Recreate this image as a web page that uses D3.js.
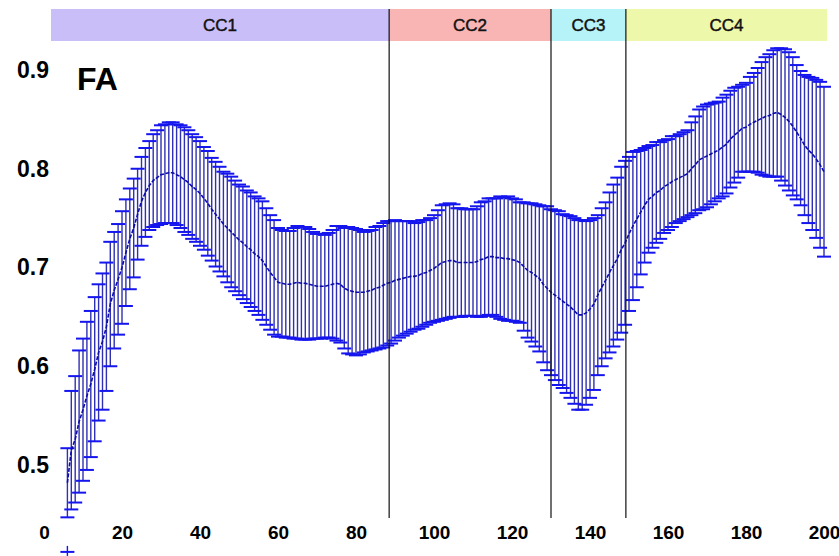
<!DOCTYPE html>
<html>
<head>
<meta charset="utf-8">
<script src="https://cdn.jsdelivr.net/npm/d3@7"></script>
<style>
  body { margin: 0; background: #fff; }
  text { font-family: "Liberation Sans", Arial, sans-serif; }
</style>
</head>
<body>
<div id="chart"></div>
<script>
// Data: FA profile along the corpus callosum
var firstPos = 6;   // position of the first sample, one sample per unit

var meanFA = [
  0.482, 0.515, 0.526, 0.544, 0.556, 0.570, 0.582, 0.597, 0.614, 0.625,
  0.640, 0.663, 0.677, 0.688, 0.700, 0.715, 0.729, 0.740, 0.754, 0.767,
  0.776, 0.783, 0.788, 0.791, 0.794, 0.795, 0.796, 0.796, 0.794, 0.792,
  0.789, 0.786, 0.782, 0.779, 0.775, 0.770, 0.765, 0.759, 0.754, 0.749,
  0.744, 0.740, 0.736, 0.732, 0.728, 0.725, 0.721, 0.718, 0.714, 0.711,
  0.707, 0.701, 0.695, 0.690, 0.685, 0.684, 0.683, 0.683, 0.684, 0.685,
  0.684, 0.684, 0.683, 0.682, 0.681, 0.681, 0.681, 0.682, 0.683, 0.684,
  0.683, 0.679, 0.677, 0.676, 0.675, 0.675, 0.675, 0.676, 0.677, 0.679,
  0.680, 0.682, 0.684, 0.685, 0.687, 0.688, 0.689, 0.690, 0.691, 0.691,
  0.692, 0.694, 0.695, 0.697, 0.699, 0.702, 0.705, 0.706, 0.707, 0.707,
  0.705, 0.705, 0.705, 0.705, 0.705, 0.706, 0.708, 0.709, 0.711, 0.711,
  0.710, 0.710, 0.709, 0.709, 0.708, 0.707, 0.705, 0.701, 0.697, 0.695,
  0.692, 0.689, 0.683, 0.679, 0.675, 0.672, 0.669, 0.666, 0.663, 0.660,
  0.656, 0.652, 0.652, 0.654, 0.658, 0.663, 0.672, 0.680, 0.687, 0.695,
  0.702, 0.709, 0.718, 0.725, 0.734, 0.742, 0.749, 0.756, 0.763, 0.769,
  0.772, 0.776, 0.778, 0.782, 0.784, 0.787, 0.789, 0.791, 0.793, 0.795,
  0.800, 0.804, 0.809, 0.811, 0.813, 0.815, 0.817, 0.819, 0.822, 0.825,
  0.830, 0.834, 0.837, 0.841, 0.842, 0.845, 0.847, 0.849, 0.851, 0.853,
  0.854, 0.856, 0.857, 0.855, 0.852, 0.848, 0.843, 0.837, 0.831, 0.824,
  0.819, 0.815, 0.810, 0.804, 0.797
];

var sdFA = [
  0.035, 0.060, 0.064, 0.072, 0.072, 0.075, 0.074, 0.073, 0.069, 0.069,
  0.065, 0.063, 0.059, 0.056, 0.057, 0.054, 0.051, 0.050, 0.046, 0.045,
  0.045, 0.045, 0.047, 0.048, 0.050, 0.050, 0.051, 0.051, 0.051, 0.052,
  0.053, 0.053, 0.053, 0.053, 0.053, 0.052, 0.053, 0.052, 0.053, 0.053,
  0.053, 0.055, 0.056, 0.056, 0.056, 0.057, 0.057, 0.058, 0.058, 0.059,
  0.060, 0.059, 0.058, 0.058, 0.055, 0.054, 0.054, 0.054, 0.056, 0.057,
  0.057, 0.057, 0.056, 0.054, 0.053, 0.053, 0.052, 0.053, 0.055, 0.058,
  0.059, 0.061, 0.064, 0.064, 0.064, 0.063, 0.061, 0.061, 0.061, 0.062,
  0.062, 0.063, 0.063, 0.062, 0.061, 0.059, 0.058, 0.057, 0.056, 0.054,
  0.054, 0.054, 0.053, 0.053, 0.054, 0.056, 0.058, 0.058, 0.058, 0.057,
  0.055, 0.055, 0.054, 0.054, 0.054, 0.056, 0.058, 0.058, 0.059, 0.059,
  0.060, 0.062, 0.062, 0.063, 0.062, 0.062, 0.061, 0.065, 0.068, 0.070,
  0.072, 0.074, 0.079, 0.083, 0.084, 0.086, 0.088, 0.088, 0.090, 0.092,
  0.094, 0.096, 0.096, 0.093, 0.090, 0.087, 0.081, 0.080, 0.079, 0.081,
  0.082, 0.082, 0.084, 0.083, 0.078, 0.075, 0.069, 0.063, 0.058, 0.054,
  0.052, 0.051, 0.049, 0.047, 0.046, 0.046, 0.044, 0.044, 0.044, 0.044,
  0.047, 0.049, 0.051, 0.052, 0.052, 0.051, 0.050, 0.049, 0.050, 0.050,
  0.049, 0.048, 0.046, 0.044, 0.045, 0.048, 0.050, 0.053, 0.057, 0.060,
  0.062, 0.064, 0.065, 0.067, 0.069, 0.070, 0.070, 0.068, 0.068, 0.071,
  0.074, 0.077, 0.080, 0.084, 0.086
];

// stray cap below the first bars
var strayX = [6];
var strayFA = [0.412];

// segment bands on top
var segNames = ["CC1", "CC2", "CC3", "CC4"];
var segEdges = [1.8, 88.5, 130, 149.2, 200.8];
var segColors = ["#c9bef8", "#f8b5b3", "#b6f3f8", "#eef8aa"];

var xTicks = [0, 20, 40, 60, 80, 100, 120, 140, 160, 180, 200];
var yTicks = [0.5, 0.6, 0.7, 0.8, 0.9];

var svgWidth = 839;
var svgHeight = 556;
var plotTop = 9;
var plotBottom = 518;
var bandHeight = 32;
var capHalf = 7;

var svg = d3.select("#chart")
  .append("svg")
  .attr("width", svgWidth)
  .attr("height", svgHeight)
  .style("display", "block");

svg.append("rect")
  .attr("width", svgWidth)
  .attr("height", svgHeight)
  .attr("fill", "#fff");

// scales
var xScale = d3.scaleLinear()
  .domain([0, 200])
  .range([44, 824]);

var yScale = d3.scaleLinear()
  .domain([0.5, 0.9])
  .range([465, 70]);

var points = meanFA.map(function(m, i) {
  return { x: firstPos + i, mean: m, sd: sdFA[i] };
});

// bands
var bands = segNames.map(function(n, i) {
  return { name: n, x0: segEdges[i], x1: segEdges[i + 1], color: segColors[i] };
});

svg.selectAll(".band")
  .data(bands)
  .enter()
  .append("rect")
  .attr("class", "band")
  .attr("x", d => xScale(d.x0))
  .attr("y", plotTop)
  .attr("width", d => xScale(d.x1) - xScale(d.x0))
  .attr("height", bandHeight)
  .attr("fill", d => d.color);

svg.selectAll(".bandLabel")
  .data(bands)
  .enter()
  .append("text")
  .attr("class", "bandLabel")
  .attr("x", d => (xScale(d.x0) + xScale(d.x1)) / 2)
  .attr("y", plotTop + bandHeight / 2 + 6)
  .attr("text-anchor", "middle")
  .attr("font-size", "17px")
  .attr("fill", "#111")
  .attr("stroke", "#111")
  .attr("stroke-width", 0.45)
  .text(d => d.name);

// error bars
var bars = svg.append("g");

bars.selectAll(".stem")
  .data(points)
  .enter()
  .append("line")
  .attr("class", "stem")
  .attr("x1", d => xScale(d.x))
  .attr("x2", d => xScale(d.x))
  .attr("y1", d => yScale(d.mean + d.sd))
  .attr("y2", d => yScale(d.mean - d.sd))
  .attr("stroke", "#3030b4")
  .attr("stroke-width", 1.4);

var caps = [];
points.forEach(function(d) {
  caps.push({ x: d.x, v: d.mean + d.sd });
  caps.push({ x: d.x, v: d.mean - d.sd });
});

bars.selectAll(".cap")
  .data(caps)
  .enter()
  .append("line")
  .attr("class", "cap")
  .attr("x1", d => xScale(d.x) - capHalf)
  .attr("x2", d => xScale(d.x) + capHalf)
  .attr("y1", d => yScale(d.v))
  .attr("y2", d => yScale(d.v))
  .attr("stroke", "#1515ee")
  .attr("stroke-width", 2);

// stray "+" mark
strayX.forEach(function(sx, i) {
  var cx = xScale(sx), cy = yScale(strayFA[i]);
  bars.append("line")
    .attr("x1", cx - capHalf).attr("x2", cx + capHalf)
    .attr("y1", cy).attr("y2", cy)
    .attr("stroke", "#1515ee").attr("stroke-width", 2);
  bars.append("line")
    .attr("x1", cx).attr("x2", cx)
    .attr("y1", cy - 6).attr("y2", cy + 4)
    .attr("stroke", "#1515ee").attr("stroke-width", 1.4);
});

// mean line
var line = d3.line()
  .x(d => xScale(d.x))
  .y(d => yScale(d.mean));

svg.append("path")
  .attr("d", line(points))
  .attr("fill", "none")
  .attr("stroke", "#0c0ca8")
  .attr("stroke-width", 1.6)
  .attr("stroke-dasharray", "4,1.5");

// segment boundaries
svg.selectAll(".divider")
  .data(segEdges.slice(1, 4))
  .enter()
  .append("line")
  .attr("class", "divider")
  .attr("x1", d => xScale(d))
  .attr("x2", d => xScale(d))
  .attr("y1", plotTop)
  .attr("y2", plotBottom)
  .attr("stroke", "#111")
  .attr("stroke-width", 1.2);

// axes (labels only, no axis lines)
var xAxis = d3.axisBottom(xScale).tickValues(xTicks).tickSize(0).tickPadding(0);
var yAxis = d3.axisLeft(yScale).tickValues(yTicks).tickSize(0).tickPadding(0)
  .tickFormat(d3.format(".1f"));

var gx = svg.append("g")
  .attr("transform", "translate(0, 525)")
  .call(xAxis);
gx.select(".domain").remove();
gx.selectAll("text")
  .attr("font-family", "Liberation Sans, Arial, sans-serif")
  .attr("font-size", "19px")
  .attr("font-weight", "bold")
  .attr("fill", "#000");

var gy = svg.append("g")
  .attr("transform", "translate(49, 0)")
  .call(yAxis);
gy.select(".domain").remove();
gy.selectAll("text")
  .attr("font-family", "Liberation Sans, Arial, sans-serif")
  .attr("font-size", "23px")
  .attr("font-weight", "bold")
  .attr("fill", "#000");

// panel label
svg.append("text")
  .attr("x", 77)
  .attr("y", 90)
  .attr("font-size", "32px")
  .attr("font-weight", "bold")
  .attr("fill", "#000")
  .text("FA");
</script>
</body>
</html>
